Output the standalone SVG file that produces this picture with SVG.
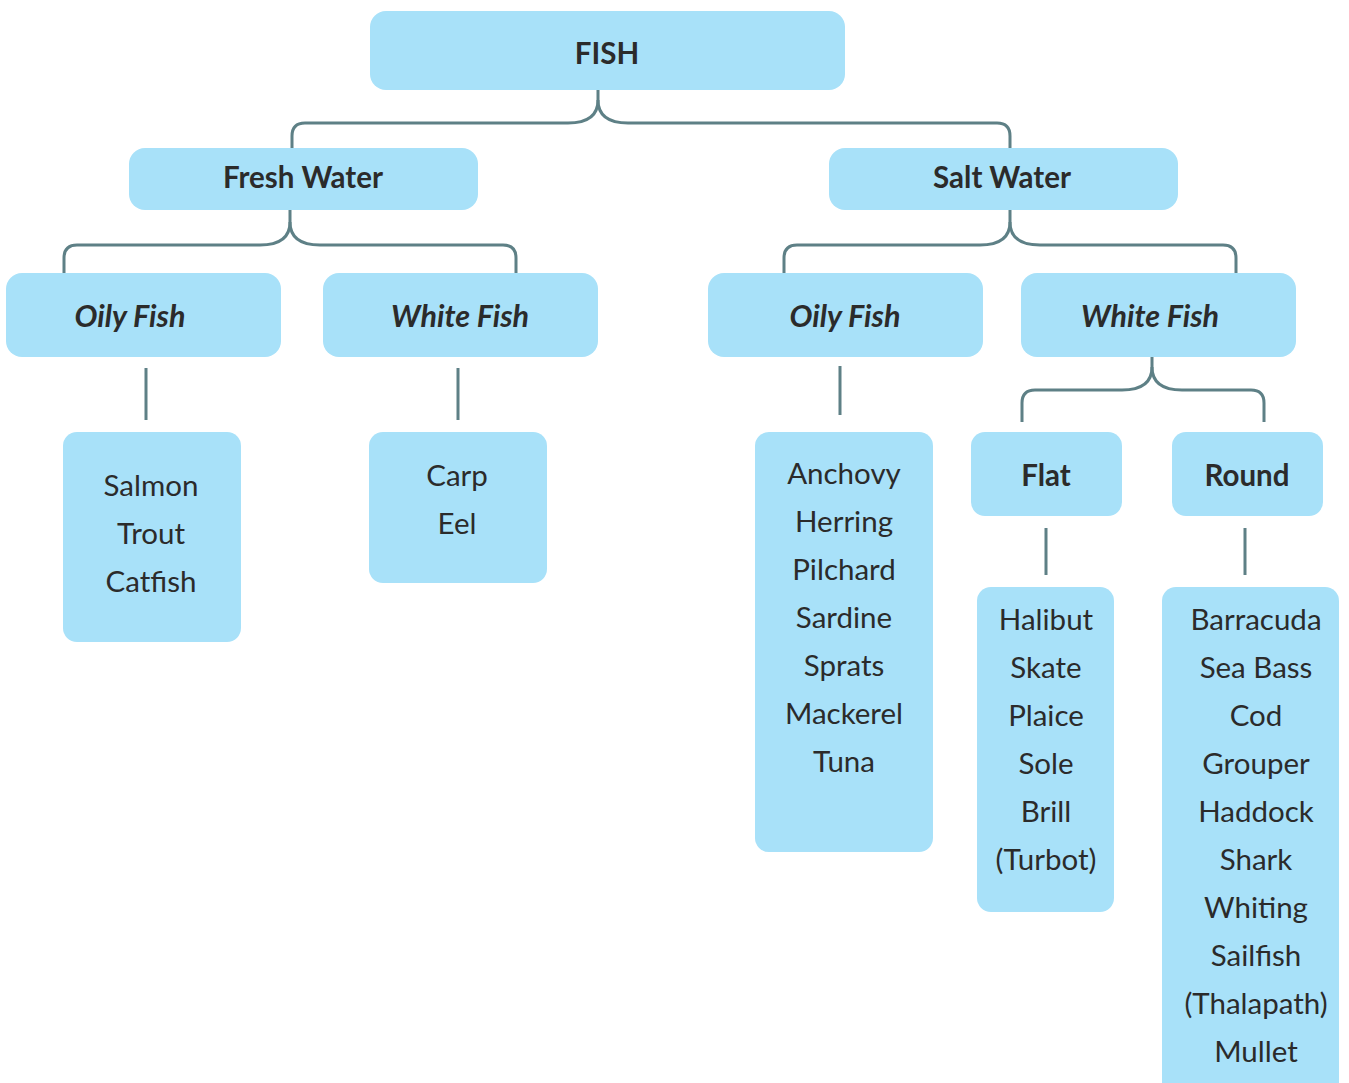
<svg xmlns="http://www.w3.org/2000/svg" width="1349" height="1083" viewBox="0 0 1349 1083">
<style>
.box{fill:#a8e1f9}
.t{font-family:Lato,"Liberation Sans",sans-serif;fill:#2b2b2b;text-anchor:middle}
.h{font-weight:bold;font-size:29.5px}
.i{font-weight:bold;font-style:italic;font-size:30.5px}
.l{font-size:29.5px}
.c{fill:none;stroke:#5e8086;stroke-width:3}
</style>
<rect width="1349" height="1083" fill="#ffffff"/>
<g id="connectors">
<path class="c" d="M598,90 V100 Q598,123 568,123 H305 Q292,123 292,136 V148"/>
<path class="c" d="M598,100 Q598,123 628,123 H997 Q1010,123 1010,136 V148"/>
<path class="c" d="M290,210 V222 Q290,245 260,245 H77 Q64,245 64,258 V273"/>
<path class="c" d="M290,222 Q290,245 320,245 H503 Q516,245 516,258 V273"/>
<path class="c" d="M1010,210 V222 Q1010,245 980,245 H797 Q784,245 784,258 V273"/>
<path class="c" d="M1010,222 Q1010,245 1040,245 H1223 Q1236,245 1236,258 V273"/>
<path class="c" d="M1152,357 V367 Q1152,390 1122,390 H1035 Q1022,390 1022,403 V422"/>
<path class="c" d="M1152,367 Q1152,390 1182,390 H1251 Q1264,390 1264,403 V422"/>
<path class="c" d="M146,368 V420 M458,368 V420 M840,366 V415 M1046,528 V575 M1245,528 V575"/>
</g>
<g id="fish"><rect class="box" x="370" y="11" width="475" height="79" rx="16"/><text class="t h" x="607" y="64">FISH</text></g>
<g id="fresh-water"><rect class="box" x="129" y="148" width="349" height="62" rx="16"/><text class="t h" x="303" y="188">Fresh Water</text></g>
<g id="salt-water"><rect class="box" x="829" y="148" width="349" height="62" rx="16"/><text class="t h" x="1002" y="188">Salt Water</text></g>
<g id="fw-oily"><rect class="box" x="6" y="273" width="275" height="84" rx="16"/><text class="t i" x="130" y="327">Oily Fish</text></g>
<g id="fw-white"><rect class="box" x="323" y="273" width="275" height="84" rx="16"/><text class="t i" x="460" y="327">White Fish</text></g>
<g id="sw-oily"><rect class="box" x="708" y="273" width="275" height="84" rx="16"/><text class="t i" x="845" y="327">Oily Fish</text></g>
<g id="sw-white"><rect class="box" x="1021" y="273" width="275" height="84" rx="16"/><text class="t i" x="1150" y="327">White Fish</text></g>
<g id="fw-oily-list"><rect class="box" x="63" y="432" width="178" height="210" rx="14"/>
<text class="t l" x="151" y="496">Salmon</text><text class="t l" x="151" y="544">Trout</text><text class="t l" x="151" y="592">Catfish</text></g>
<g id="fw-white-list"><rect class="box" x="369" y="432" width="178" height="151" rx="14"/>
<text class="t l" x="457" y="486">Carp</text><text class="t l" x="457" y="534">Eel</text></g>
<g id="sw-oily-list"><rect class="box" x="755" y="432" width="178" height="420" rx="14"/>
<text class="t l" x="844" y="484">Anchovy</text><text class="t l" x="844" y="532">Herring</text><text class="t l" x="844" y="580">Pilchard</text><text class="t l" x="844" y="628">Sardine</text><text class="t l" x="844" y="676">Sprats</text><text class="t l" x="844" y="724">Mackerel</text><text class="t l" x="844" y="772">Tuna</text></g>
<g id="flat"><rect class="box" x="971" y="432" width="151" height="84" rx="14"/><text class="t h" x="1046" y="486">Flat</text></g>
<g id="round"><rect class="box" x="1172" y="432" width="151" height="84" rx="14"/><text class="t h" x="1247" y="486">Round</text></g>
<g id="flat-list"><rect class="box" x="977" y="587" width="137" height="325" rx="14"/>
<text class="t l" x="1046" y="630">Halibut</text><text class="t l" x="1046" y="678">Skate</text><text class="t l" x="1046" y="726">Plaice</text><text class="t l" x="1046" y="774">Sole</text><text class="t l" x="1046" y="822">Brill</text><text class="t l" x="1046" y="870">(Turbot)</text></g>
<g id="round-list"><rect class="box" x="1162" y="587" width="177" height="510" rx="14"/>
<text class="t l" x="1256" y="630">Barracuda</text><text class="t l" x="1256" y="678">Sea Bass</text><text class="t l" x="1256" y="726">Cod</text><text class="t l" x="1256" y="774">Grouper</text><text class="t l" x="1256" y="822">Haddock</text><text class="t l" x="1256" y="870">Shark</text><text class="t l" x="1256" y="918">Whiting</text><text class="t l" x="1256" y="966">Sailfish</text><text class="t l" x="1256" y="1014">(Thalapath)</text><text class="t l" x="1256" y="1062">Mullet</text></g>
</svg>
